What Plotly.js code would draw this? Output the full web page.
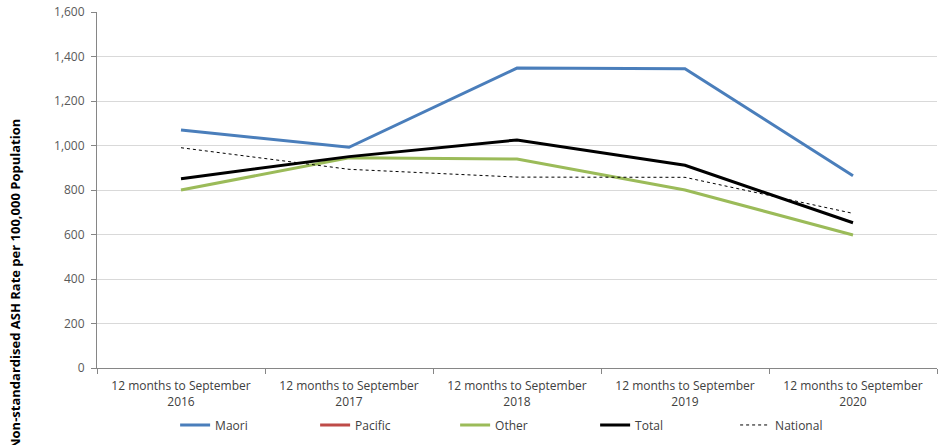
<!DOCTYPE html>
<html>
<head>
<meta charset="utf-8">
<script src="https://cdn.plot.ly/plotly-3.0.1.min.js"></script>
<style>
  html, body { margin: 0; padding: 0; background: #fff; }
  #chart { width: 939px; height: 445px; }
</style>
</head>
<body>
<div id="chart"></div>
<script>
// Ambulatory sensitive hospitalisation rates by ethnicity
const periods = [
  "12 months to September<br>2016",
  "12 months to September<br>2017",
  "12 months to September<br>2018",
  "12 months to September<br>2019",
  "12 months to September<br>2020"
];
const maori    = [1070, 992, 1348, 1345, 864];
const pacific  = [null, null, null, null, null];
const other    = [800, 945, 939, 800, 598];
const total    = [851, 950, 1025, 911, 653];
const national = [990, 893, 858, 857, 695];

const yTickVals = [0, 200, 400, 600, 800, 1000, 1200, 1400, 1600];

const font = "'Open Sans', 'Noto Sans', sans-serif";

const traces = [
  { name: "Maori",    y: maori,    line: { color: "#4a7ebb", width: 3 } },
  { name: "Pacific",  y: pacific,  line: { color: "#be4b48", width: 3 } },
  { name: "Other",    y: other,    line: { color: "#9bbb59", width: 3 } },
  { name: "Total",    y: total,    line: { color: "#000000", width: 3 } },
  { name: "National", y: national, line: { color: "#000000", width: 1, dash: "3px,3px" } }
].map(t => Object.assign({
  x: periods,
  type: "scatter",
  mode: "lines",
  hoverinfo: "skip"
}, t));

const layout = {
  width: 939,
  height: 445,
  margin: { l: 97, r: 2, t: 12, b: 77 },
  paper_bgcolor: "#ffffff",
  plot_bgcolor: "#ffffff",
  font: { family: font, size: 11, color: "#595959" },
  showlegend: true,
  legend: {
    orientation: "h",
    x: 0.093, xanchor: "left",
    y: -0.16, yanchor: "middle",
    entrywidth: 95, entrywidthmode: "pixels",
    itemwidth: 30,
    font: { family: font, size: 12, color: "#404040" },
    tracegroupgap: 0
  },
  xaxis: {
    type: "category",
    range: [-0.5, 4.5],
    tickson: "boundaries",
    ticks: "outside",
    ticklen: 5,
    tickcolor: "#868686",
    ticklabelstandoff: 7,
    showline: true,
    linecolor: "#868686",
    linewidth: 1,
    showgrid: false,
    tickfont: { family: font, size: 12, color: "#404040" },
    fixedrange: true
  },
  yaxis: {
    range: [0, 1600],
    tickvals: yTickVals,
    tickformat: ",d",
    ticks: "outside",
    ticklen: 5,
    tickcolor: "#868686",
    ticklabelstandoff: 4,
    showline: true,
    linecolor: "#868686",
    linewidth: 1,
    showgrid: true,
    gridcolor: "#d9d9d9",
    gridwidth: 1,
    zeroline: false,
    tickfont: { family: font, size: 12, color: "#595959" },
    fixedrange: true
  },
  annotations: [{
    text: "Non-standardised ASH Rate per 100,000 Population",
    xref: "paper", yref: "paper",
    x: (15 - 97) / 840, y: (368 - 284) / 356,
    xanchor: "center", yanchor: "middle",
    textangle: -90,
    showarrow: false,
    font: { family: font, size: 13, color: "#000000", weight: "bold" }
  }]
};

Plotly.newPlot("chart", traces, layout, { displayModeBar: false, staticPlot: true });
</script>
</body>
</html>
